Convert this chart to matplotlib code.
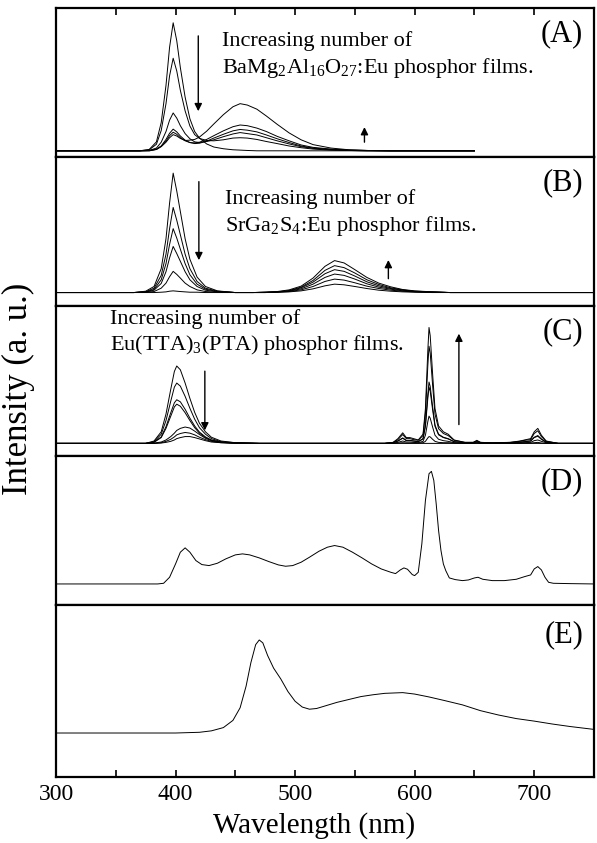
import matplotlib
matplotlib.use("Agg")
import matplotlib.pyplot as plt
from matplotlib.ticker import MultipleLocator

plt.rcParams['font.family'] = ['Liberation Serif', 'DejaVu Serif']
plt.rcParams['mathtext.fontset'] = 'custom'
plt.rcParams['mathtext.rm'] = 'Liberation Serif'
plt.rcParams['mathtext.it'] = 'Liberation Serif:italic'

# ---- panel A: BaMg2Al16O27:Eu films (blue 398 nm down, 454 nm band up)
xA = [300, 370, 378, 384, 388, 392, 395, 398, 401, 404, 408, 412, 416, 420, 426, 432,
      440, 448, 454, 460, 468, 476, 485, 495, 505, 515, 530, 545, 560, 580, 650]
yA = [
    [0, 0, 4, 26, 82, 190, 301, 372, 320, 242, 156, 93, 56, 37, 20, 11,
     6, 3, 2, 1, 0, 0, 0, 0, 0, 0, 0, 0, 0, 0, 0],
    [0, 0, 3, 19, 59, 137, 218, 269, 232, 176, 116, 72, 47, 36, 30, 29,
     32, 37, 38, 37, 33, 27, 21, 14, 9, 5, 2, 1, 0, 0, 0],
    [0, 0, 1, 8, 25, 56, 89, 110, 95, 73, 50, 35, 26, 24, 27, 32,
     41, 49, 53, 50, 46, 38, 29, 20, 12, 7, 3, 1, 0, 0, 0],
    [0, 0, 1, 5, 14, 33, 51, 63, 55, 43, 31, 24, 21, 22, 28, 37,
     48, 58, 62, 60, 55, 46, 35, 24, 14, 8, 4, 2, 1, 0, 0],
    [0, 0, 0, 4, 13, 28, 44, 54, 48, 38, 29, 24, 23, 25, 33, 44,
     58, 70, 75, 73, 66, 56, 42, 29, 17, 10, 5, 2, 1, 0, 0],
    [0, 0, 0, 4, 12, 25, 38, 47, 43, 36, 30, 31, 33, 40, 57, 78,
     105, 128, 137, 133, 121, 101, 77, 52, 32, 18, 8, 3, 1, 0, 0],
]

# ---- panel B: SrGa2S4:Eu films (blue 398 nm down, 533 nm band up)
xB = [300, 365, 375, 382, 388, 392, 395, 398, 401, 404, 408, 412, 418, 425, 435, 450,
      465, 475, 485, 495, 505, 515, 525, 533, 541, 550, 560, 570, 580, 590, 600, 615,
      630, 650, 750]
yB = [
    [0, 0, 4, 18, 71, 160, 266, 355, 302, 241, 160, 99, 46, 18, 5, 0,
     0, 0, 1, 2, 5, 11, 20, 25, 23, 18, 12, 7, 4, 2, 1, 0, 0, 0, 0],
    [0, 0, 2, 13, 51, 114, 190, 253, 215, 172, 114, 71, 33, 13, 4, 0,
     0, 0, 1, 3, 8, 18, 33, 40, 37, 29, 19, 12, 7, 4, 2, 1, 0, 0, 0],
    [0, 0, 2, 9, 38, 86, 143, 190, 162, 129, 86, 53, 25, 10, 3, 0,
     0, 0, 2, 4, 11, 25, 45, 55, 51, 40, 26, 16, 10, 5, 3, 1, 0, 0, 0],
    [0, 0, 1, 7, 27, 62, 103, 137, 116, 93, 62, 38, 18, 7, 2, 0,
     0, 1, 2, 5, 14, 31, 56, 68, 63, 49, 32, 20, 12, 7, 3, 1, 0, 0, 0],
    [0, 0, 1, 3, 13, 28, 47, 63, 54, 43, 28, 18, 8, 3, 1, 0,
     0, 1, 2, 6, 16, 36, 66, 80, 74, 58, 38, 24, 14, 8, 4, 2, 0, 0, 0],
    [0, 0, 0, 0, 1, 2, 4, 5, 4, 3, 2, 1, 1, 0, 0, 0,
     0, 1, 3, 8, 19, 43, 78, 95, 88, 68, 45, 28, 17, 9, 5, 2, 0, 0, 0],
]

# ---- panel C: Eu(TTA)3(PTA) films (blue ~401 nm down, Eu3+ lines up)
xC = [300, 375, 382, 388, 392, 396, 399, 401, 404, 408, 412, 416, 420, 425, 430, 438,
      450, 470, 575, 582, 586, 590, 593, 596, 599, 603, 607, 609, 611, 612, 613, 615,
      617, 620, 624, 628, 633, 642, 649, 652, 655, 665, 680, 688, 692, 697, 700, 703,
      706, 710, 720, 750]
yC = [
    [0, 0, 7, 34, 86, 159, 211, 227, 216, 177, 132, 91, 59, 34, 18, 7, 2, 0,
     0, 0, 0, 0, 0, 0, 0, 0, 0, 0, 0, 0, 0, 0, 0, 0, 0, 0, 0, 0, 0, 0, 0, 0, 0,
     0, 0, 0, 0, 0, 0, 0, 0, 0],
    [0, 0, 5, 27, 67, 124, 165, 177, 168, 138, 103, 71, 46, 27, 14, 5, 2, 0,
     0, 0, 1, 2, 1, 1, 1, 1, 2, 6, 16, 20, 19, 12, 6, 3, 2, 2, 1, 0, 0, 1, 0, 0, 0,
     0, 1, 1, 2, 3, 1, 0, 0, 0],
    [0, 0, 4, 19, 49, 90, 119, 128, 122, 100, 74, 51, 33, 19, 10, 4, 1, 0,
     0, 1, 3, 7, 4, 4, 3, 2, 6, 24, 64, 80, 74, 48, 24, 12, 8, 6, 2, 1, 1, 2, 1, 0, 1,
     2, 2, 3, 8, 10, 6, 2, 0, 0],
    [0, 0, 3, 17, 44, 80, 107, 115, 109, 90, 67, 46, 30, 17, 9, 3, 1, 0,
     0, 2, 7, 15, 8, 8, 7, 5, 13, 50, 132, 165, 153, 99, 50, 25, 17, 13, 5, 2, 2, 4, 2, 1, 2,
     3, 5, 7, 17, 21, 12, 3, 0, 0],
    [0, 0, 1, 4, 10, 20, 30, 38, 44, 48, 45, 36, 26, 15, 8, 3, 1, 0,
     0, 2, 7, 16, 9, 9, 7, 5, 14, 54, 144, 180, 167, 108, 54, 27, 18, 14, 5, 2, 2, 5, 2, 1, 2,
     4, 5, 7, 18, 23, 13, 4, 0, 0],
    [0, 0, 0, 2, 6, 12, 19, 25, 29, 32, 30, 25, 18, 11, 6, 2, 1, 0,
     0, 3, 11, 26, 14, 14, 11, 9, 23, 86, 228, 285, 265, 171, 86, 43, 29, 23, 9, 3, 3, 7, 3, 1, 3,
     6, 9, 11, 29, 37, 20, 6, 0, 0],
    [0, 0, 0, 1, 3, 6, 10, 14, 17, 20, 20, 17, 13, 8, 4, 2, 0, 0,
     0, 3, 14, 31, 17, 17, 14, 10, 27, 102, 272, 340, 316, 204, 102, 51, 34, 27, 10, 3, 3, 9, 3, 2, 3,
     7, 10, 14, 34, 44, 24, 7, 0, 0],
]

# ---- panel D: combined device
xD = [300, 385, 390, 395, 400, 404, 408, 412, 417, 422, 428, 435, 442, 450, 456, 462,
      470, 478, 486, 492, 498, 505, 512, 520, 527, 533, 540, 548, 556, 564, 572, 580,
      584, 588, 591, 594, 598, 600, 603, 606, 609, 612, 614, 616, 618, 620, 622, 624,
      626, 629, 634, 640, 645, 650, 653, 657, 665, 675, 685, 692, 697, 700, 703, 706,
      709, 712, 716, 730, 750]
yD = [0, 0, 2, 20, 60, 95, 108, 95, 70, 58, 55, 62, 75, 87, 90, 87,
      78, 67, 57, 53, 55, 65, 80, 98, 110, 115, 110, 95, 78, 60, 45, 35,
      31, 42, 48, 44, 28, 25, 35, 120, 250, 330, 337, 310, 240, 160, 100, 60,
      40, 18, 13, 10, 12, 18, 20, 14, 10, 10, 14, 22, 27, 45, 52, 42,
      20, 5, 2, 1, 0]

# ---- panel E
xE = [300, 400, 420, 430, 440, 448, 454, 459, 463, 467, 470, 473, 477, 482, 488, 494,
      500, 506, 512, 518, 525, 535, 545, 555, 565, 575, 590, 600, 612, 625, 640, 655,
      670, 685, 700, 715, 730, 750]
yE = [0, 0, 2, 6, 15, 35, 70, 130, 195, 245, 258, 250, 215, 180, 150, 115,
      88, 72, 66, 68, 75, 85, 93, 101, 106, 110, 112, 108, 100, 90, 78, 62,
      50, 40, 33, 25, 18, 10]

panel_labels = ['(A)', '(B)', '(C)', '(D)', '(E)']
ylims = [(-18, 415), (-40, 403), (-37, 403), (-63, 383), (-122, 355)]
edges_px = [8, 157, 306, 456, 605, 777]

W, H = 597, 843
fig = plt.figure(figsize=(W / 100, H / 100), dpi=100)
left, right = 56, 594
axes = []
for i in range(5):
    top, bot = edges_px[i], edges_px[i + 1]
    ax = fig.add_axes([left / W, 1 - bot / H, (right - left) / W, (bot - top) / H])
    axes.append(ax)

lw = 0.7
for y in yA:
    axes[0].plot(xA, y, color='k', lw=lw)
for y in yB:
    axes[1].plot(xB, y, color='k', lw=lw)
for y in yC:
    axes[2].plot(xC, y, color='k', lw=lw)
axes[3].plot(xD, yD, color='k', lw=lw)
axes[4].plot(xE, yE, color='k', lw=lw)

for i, ax in enumerate(axes):
    ax.set_xlim(300, 750)
    ax.set_ylim(*ylims[i])
    ax.set_yticks([])
    for s in ax.spines.values():
        s.set_linewidth(1.6)
    ax.xaxis.set_major_locator(MultipleLocator(100))
    ax.xaxis.set_minor_locator(MultipleLocator(50))
    ax.tick_params(axis='x', which='both', direction='in', length=5, width=1.2, pad=5,
                   bottom=(i == 4), top=(i == 0), labelbottom=(i == 4), labelsize=17)
    ax.text(0.98, 0.83, panel_labels[i], transform=ax.transAxes, ha='right',
            va='center', fontsize=22)

arrow = dict(arrowstyle='-|>', color='k', lw=1.0, mutation_scale=11)
# A
axes[0].text(439, 0.78, 'Increasing number of', transform=axes[0].get_xaxis_transform(),
             fontsize=16, va='center')
axes[0].text(439, 0.60, r'BaMg$_\mathrm{2}$Al$_\mathrm{16}$O$_\mathrm{27}$:Eu phosphor films.',
             transform=axes[0].get_xaxis_transform(), fontsize=16, va='center')
axes[0].annotate('', xy=(419, 107), xytext=(419, 342), arrowprops=arrow)
axes[0].annotate('', xy=(558, 77), xytext=(558, 17), arrowprops=arrow)
# B
axes[1].text(441, 0.72, 'Increasing number of', transform=axes[1].get_xaxis_transform(),
             fontsize=16, va='center')
axes[1].text(441, 0.54, r'SrGa$_\mathrm{2}$S$_\mathrm{4}$:Eu phosphor films.',
             transform=axes[1].get_xaxis_transform(), fontsize=16, va='center')
axes[1].annotate('', xy=(419.5, 88), xytext=(419.5, 338), arrowprops=arrow)
axes[1].annotate('', xy=(578, 105), xytext=(578, 33), arrowprops=arrow)
# C
axes[2].text(345, 0.91, 'Increasing number of', transform=axes[2].get_xaxis_transform(),
             fontsize=16, va='center')
axes[2].text(345, 0.74, r'Eu(TTA)$_\mathrm{3}$(PTA) phosphor films.',
             transform=axes[2].get_xaxis_transform(), fontsize=16, va='center')
axes[2].annotate('', xy=(424.5, 30), xytext=(424.5, 220), arrowprops=arrow)
axes[2].annotate('', xy=(637, 330), xytext=(637, 47), arrowprops=arrow)

fig.text(314 / W, 1 - 826 / H, 'Wavelength (nm)', fontsize=21, ha='center', va='center')
fig.text(18 / W, 1 - 389 / H, 'Intensity (a. u.)', rotation=90, fontsize=25,
         ha='center', va='center')

fig.savefig('out.png', dpi=100)
